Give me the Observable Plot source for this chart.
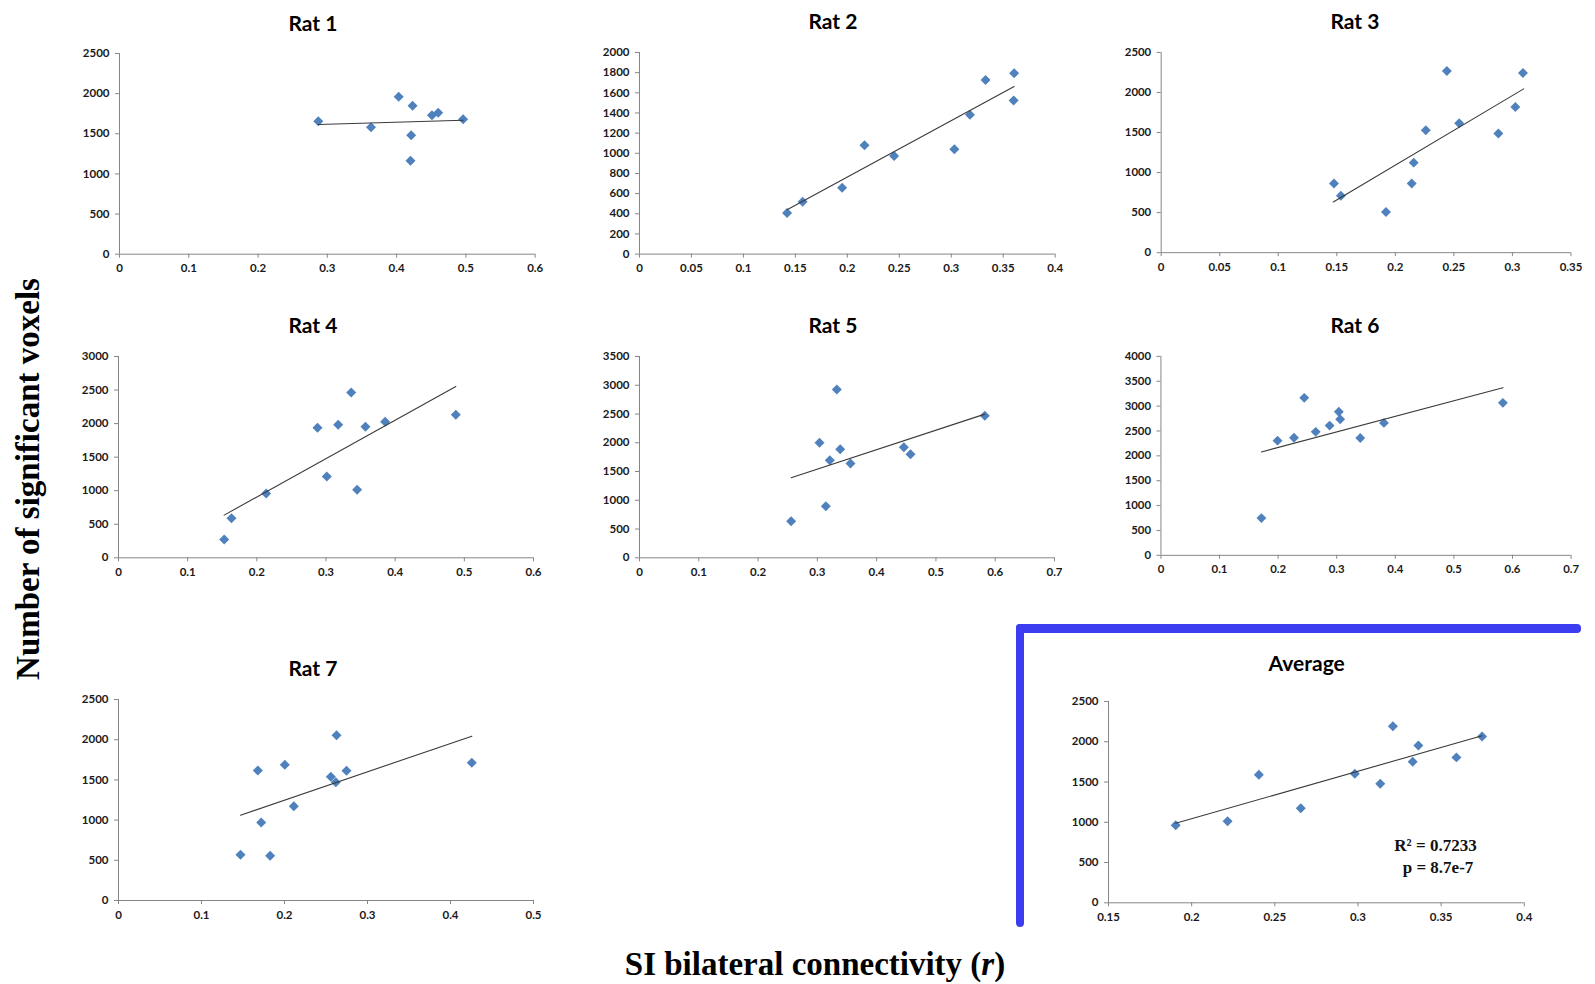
<!DOCTYPE html>
<html><head><meta charset="utf-8">
<script src="https://cdn.jsdelivr.net/npm/d3@7"></script>
<script src="https://cdn.jsdelivr.net/npm/@observablehq/plot@0.6"></script>
<style>
body{margin:0;background:#fff;width:1595px;height:984px;position:relative;overflow:hidden;}
.panel{position:absolute;}
.panel svg{overflow:visible;}
.panel g[aria-label$="axis tick"] path, .panel g[aria-label$="axis"] line{stroke:#868686;}
.title{position:absolute;font-family:Lato,"Open Sans",sans-serif;font-weight:bold;font-size:21px;line-height:1;transform:translate(-50%,-50%);white-space:nowrap;color:#000;}
.biglabel{position:absolute;font-family:"Liberation Serif","DejaVu Serif",serif;font-weight:bold;font-size:33px;line-height:1;white-space:nowrap;color:#000;}
.stat{position:absolute;font-family:"Liberation Serif",serif;font-weight:bold;font-size:17px;line-height:1;transform:translate(-50%,-50%);white-space:nowrap;color:#111;}
.border{position:absolute;background:#3c3cf0;border-radius:4px;}
</style>
</head><body>
<script>
// ---- Data ----
const titles = ["Rat 1","Rat 2","Rat 3","Rat 4","Rat 5","Rat 6","Rat 7","Average"];

const rat1X = [0.287,0.363,0.403,0.423,0.421,0.420,0.451,0.460,0.496];
const rat1Y = [1657,1582,1960,1848,1483,1163,1732,1761,1682];
const rat1Trend = [0.287,1615,0.496,1669];
const rat1XTicks = [0,0.1,0.2,0.3,0.4,0.5,0.6];
const rat1YTicks = [0,500,1000,1500,2000,2500];

const rat2X = [0.142,0.157,0.195,0.2165,0.245,0.303,0.318,0.333,0.3605,0.360];
const rat2Y = [407,519,658,1081,972,1041,1382,1726,1795,1524];
const rat2Trend = [0.142,440,0.3605,1663];
const rat2XTicks = [0,0.05,0.1,0.15,0.2,0.25,0.3,0.35,0.4];
const rat2YTicks = [0,200,400,600,800,1000,1200,1400,1600,1800,2000];

const rat3X = [0.1476,0.1535,0.192,0.214,0.2157,0.226,0.244,0.2545,0.288,0.3025,0.309];
const rat3Y = [864,711,508,864,1124,1529,2269,1616,1488,1818,2244];
const rat3Trend = [0.147,632,0.3096,2045];
const rat3XTicks = [0,0.05,0.1,0.15,0.2,0.25,0.3,0.35];
const rat3YTicks = [0,500,1000,1500,2000,2500];

const rat4X = [0.1528,0.1634,0.2135,0.2877,0.3012,0.3176,0.3364,0.345,0.357,0.3855,0.4877];
const rat4Y = [273,591,959,1937,1212,1982,2464,1013,1952,2027,2131];
const rat4Trend = [0.1528,636,0.4877,2553];
const rat4XTicks = [0,0.1,0.2,0.3,0.4,0.5,0.6];
const rat4YTicks = [0,500,1000,1500,2000,2500,3000];

const rat5X = [0.2558,0.3036,0.3143,0.321,0.3328,0.3385,0.3559,0.4459,0.4571,0.5825];
const rat5Y = [637,1999,898,1698,2926,1889,1640,1924,1802,2469];
const rat5Trend = [0.2558,1391,0.5825,2498];
const rat5XTicks = [0,0.1,0.2,0.3,0.4,0.5,0.6,0.7];
const rat5YTicks = [0,500,1000,1500,2000,2500,3000,3500];

const rat6X = [0.1715,0.199,0.2271,0.2446,0.2642,0.2879,0.3036,0.3059,0.3402,0.3806,0.5836];
const rat6Y = [748,2305,2364,3166,2483,2609,2887,2735,2358,2662,3066];
const rat6Trend = [0.1715,2079,0.5836,3371];
const rat6XTicks = [0,0.1,0.2,0.3,0.4,0.5,0.6,0.7];
const rat6YTicks = [0,500,1000,1500,2000,2500,3000,3500,4000];

const rat7X = [0.147,0.1679,0.1719,0.1827,0.2004,0.2112,0.2558,0.2618,0.2627,0.2747,0.4257];
const rat7Y = [568,1617,970,556,1687,1173,1538,1472,2056,1613,1712];
const rat7Trend = [0.147,1061,0.4257,2044];
const rat7XTicks = [0,0.1,0.2,0.3,0.4,0.5];
const rat7YTicks = [0,500,1000,1500,2000,2500];

const avgX = [0.1904,0.2216,0.2404,0.2656,0.2981,0.3134,0.321,0.3329,0.3363,0.3592,0.3746];
const avgY = [963,1012,1591,1174,1603,1479,2194,1752,1955,1806,2066];
const avgTrend = [0.1904,988,0.3746,2074];
const avgXTicks = [0.15,0.2,0.25,0.3,0.35,0.4];
const avgYTicks = [0,500,1000,1500,2000,2500];

const statLines = ["R² = 0.7233","p = 8.7e-7"];
const yLabel = "Number of significant voxels";

// ---- Layout (page pixels of each plot frame) ----
const frames = [
  {x0:119.3,x1:535,y0:53.3,y1:254, tx:313,ty:21.8},
  {x0:639.3,x1:1055,y0:51.7,y1:253.3, tx:833,ty:20.2},
  {x0:1160.7,x1:1573.3,y0:51.7,y1:253.3, tx:1355,ty:20.2},
  {x0:118.3,x1:533.3,y0:356,y1:557.3, tx:313,ty:323.5},
  {x0:639.3,x1:1054.3,y0:356,y1:557.3, tx:833,ty:323.5},
  {x0:1160.7,x1:1575.7,y0:356,y1:557.3, tx:1355,ty:323.5},
  {x0:118.3,x1:533.3,y0:699,y1:900, tx:313,ty:666.8},
  {x0:1107.7,x1:1523.5,y0:701,y1:902.3, tx:1306.7,ty:662}
];

const series = [
  [rat1X,rat1Y,rat1Trend,rat1XTicks,rat1YTicks],
  [rat2X,rat2Y,rat2Trend,rat2XTicks,rat2YTicks],
  [rat3X,rat3Y,rat3Trend,rat3XTicks,rat3YTicks],
  [rat4X,rat4Y,rat4Trend,rat4XTicks,rat4YTicks],
  [rat5X,rat5Y,rat5Trend,rat5XTicks,rat5YTicks],
  [rat6X,rat6Y,rat6Trend,rat6XTicks,rat6YTicks],
  [rat7X,rat7Y,rat7Trend,rat7XTicks,rat7YTicks],
  [avgX,avgY,avgTrend,avgXTicks,avgYTicks]
];

const fmt = d3.format("~g");
const mL=50, mR=25, mT=10, mB=30;

series.forEach(([xs,ys,tr,xt,yt], i) => {
  const f = frames[i];
  const pts = xs.map((x,j)=>({x, y: ys[j]}));
  const line = [{x:tr[0],y:tr[1]},{x:tr[2],y:tr[3]}];
  const w = f.x1-f.x0, h = f.y1-f.y0;
  const svg = Plot.plot({
    width: w+mL+mR, height: h+mT+mB,
    marginLeft:mL, marginRight:mR, marginTop:mT, marginBottom:mB,
    style:{fontFamily:"Lato, 'Open Sans', sans-serif", fontSize:"11.5px", fontWeight:"bold", color:"#1a1a1a", background:"transparent", overflow:"visible"},
    x:{domain:[xt[0], xt[xt.length-1]], ticks: xt, tickFormat: fmt, tickSize:4, tickPadding:6, label:null},
    y:{domain:[yt[0], yt[yt.length-1]], ticks: yt, tickFormat: d=>String(d), tickSize:4, tickPadding:6, label:null},
    marks:[
      Plot.ruleX([xt[0]], {stroke:"#868686"}),
      Plot.ruleY([yt[0]], {stroke:"#868686"}),
      Plot.dot(pts, {x:"x", y:"y", symbol:"diamond2", r:4.5, fill:"#4F81BD", stroke:"none"}),
      Plot.line(line, {x:"x", y:"y", stroke:"#3a3a3a", strokeWidth:1.1})
    ]
  });
  const div = document.createElement("div");
  div.className = "panel";
  div.style.left = (f.x0-mL)+"px";
  div.style.top = (f.y0-mT)+"px";
  div.appendChild(svg);
  document.body.appendChild(div);
  const t = document.createElement("div");
  t.className = "title";
  t.textContent = titles[i];
  t.style.left = f.tx+"px"; t.style.top = f.ty+"px";
  document.body.appendChild(t);
});

// blue L-shaped border around the Average panel
const b1 = document.createElement("div"); b1.className="border";
Object.assign(b1.style,{left:"1016px",top:"624px",width:"565px",height:"9px"});
const b2 = document.createElement("div"); b2.className="border";
Object.assign(b2.style,{left:"1016px",top:"624px",width:"8px",height:"303px"});
document.body.appendChild(b1); document.body.appendChild(b2);

// statistics text
statLines.forEach((s,k)=>{
  const d = document.createElement("div"); d.className="stat";
  d.textContent = s;
  d.style.left = (k===0?1435.5:1438)+"px"; d.style.top = (k===0?845:867)+"px";
  document.body.appendChild(d);
});

// shared axis labels
const yl = document.createElement("div"); yl.className="biglabel";
yl.textContent = yLabel;
Object.assign(yl.style,{left:"28px",top:"479px",transform:"translate(-50%,-50%) rotate(-90deg)"});
document.body.appendChild(yl);
const xl = document.createElement("div"); xl.className="biglabel";
xl.innerHTML = "SI bilateral connectivity (<i>r</i>)";
Object.assign(xl.style,{left:"815px",top:"964px",transform:"translate(-50%,-50%)"});
document.body.appendChild(xl);
</script>
</body></html>
